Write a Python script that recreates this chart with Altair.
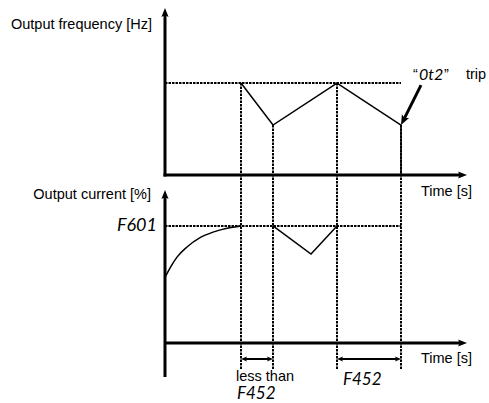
import altair as alt
import pandas as pd

# ---- values ---------------------------------------------------------------
# instants (arbitrary time units) where the overload protection acts
event_t = [4.75, 6.75, 10.75, 14.75]
event_f = [60.0, 32.6, 60.0, 32.6]          # output frequency at those instants

freq_level = 60.0
freq_t = [4.75, 6.75, 10.75, 14.75, 14.75]
freq_v = [60.0, 32.6, 60.0, 32.6, 0.0]

current_limit = 150.0                         # F601 stall level, %
rise_t = [0.0, 0.31, 0.75, 1.375, 2.19, 3.0, 3.875, 4.75]
rise_v = [84.0, 96.0, 110.0, 123.0, 135.0, 142.0, 147.0, 150.0]
dip_t = [6.75, 9.125, 10.75]
dip_v = [150.0, 114.0, 150.0]

# timing intervals marked under the time axis
span_start = [4.75, 10.75]
span_end = [6.75, 14.75]

# pointer to the trip instant
trip_tail = (16.0, 58.7)
trip_tip = (14.75, 32.6)

T_MAX, F_MAX, C_MAX = 18.875, 109.0, 196.0

# ---- text -----------------------------------------------------------------
FONT = "Liberation Sans"
SEG = "Lato"
title_freq = "Output frequency [Hz]"
title_cur = "Output current [%]"
time_title = "Time [s]"
limit_code = "F601"
span_code = "F452"
span_note = "less than"
trip_code = "0t2"

# ---- scales (plot area is the whole 489x403 canvas) -----------------------
X = alt.Scale(domain=[0, T_MAX], range=[165, 467], nice=False, zero=False)
YF = alt.Scale(domain=[0, F_MAX], range=[175, 8], nice=False, zero=False)
YC = alt.Scale(domain=[0, C_MAX], range=[343, 190], nice=False, zero=False)

HEAD = "M0,0L0.4,1L0,0.8L-0.4,1Z"   # arrow head, tip at origin, pointing up
BLACK = "black"


def xq(f):
    return alt.X(f, type="quantitative", scale=X, axis=None)


def x2q(f):
    return alt.X2(f)


def yf(f):
    return alt.Y(f, type="quantitative", scale=YF, axis=None)


def yc(f):
    return alt.Y(f, type="quantitative", scale=YC, axis=None)


def head(df, x, y, angle, size):
    return alt.Chart(df).mark_point(
        shape=HEAD, filled=True, size=size, color=BLACK, opacity=1,
        strokeWidth=0, angle=angle
    ).encode(x=x, y=y)


def label(text, x, y, align="left", font=FONT, size=14.5, italic=False, weight="normal"):
    return alt.Chart(pd.DataFrame({"s": [text]})).mark_text(
        align=align, baseline="middle", font=font, fontSize=size,
        fontStyle="italic" if italic else "normal", fontWeight=weight, color=BLACK
    ).encode(x=alt.value(x), y=alt.value(y), text="s:N")


def seg(text, x, y, size, align="left"):
    return label(text, x, y, align=align, font=SEG, size=size, italic=True)


DOT = dict(color=BLACK, strokeWidth=2, strokeDash=[2.5, 1])

# ---- dotted guides --------------------------------------------------------
f_level = alt.Chart(pd.DataFrame({"t0": [0.0], "t1": [event_t[-1]], "f": [freq_level]})
                    ).mark_rule(**DOT).encode(x=xq("t0"), x2=x2q("t1"), y=yf("f"))
c_level = alt.Chart(pd.DataFrame({"t0": [0.0], "t1": [event_t[-1]], "c": [current_limit]})
                    ).mark_rule(**DOT).encode(x=xq("t0"), x2=x2q("t1"), y=yc("c"))
verticals = alt.Chart(pd.DataFrame({"t": event_t, "f": event_f})).mark_rule(**DOT).encode(
    x=xq("t"), y=yf("f"), y2=alt.value(369))

# ---- signal traces --------------------------------------------------------
freq_line = alt.Chart(pd.DataFrame({"t": freq_t, "f": freq_v, "o": range(len(freq_t))})
                      ).mark_line(color=BLACK, strokeWidth=1.5).encode(
    x=xq("t"), y=yf("f"), order="o:Q")
rise_line = alt.Chart(pd.DataFrame({"t": rise_t, "c": rise_v})).mark_line(
    color=BLACK, strokeWidth=1.5, interpolate="monotone").encode(x=xq("t"), y=yc("c"))
dip_line = alt.Chart(pd.DataFrame({"t": dip_t, "c": dip_v})).mark_line(
    color=BLACK, strokeWidth=1.5).encode(x=xq("t"), y=yc("c"))

# ---- axes with arrow heads ------------------------------------------------
fa = pd.DataFrame({"t0": [0.0], "t1": [T_MAX], "f0": [0.0], "f1": [F_MAX]})
f_vaxis = alt.Chart(fa).mark_rule(color=BLACK, strokeWidth=3, y2Offset=6, yOffset=1.5).encode(
    x=xq("t0"), y=yf("f0"), y2=alt.Y2("f1"))
f_haxis = alt.Chart(fa).mark_rule(color=BLACK, strokeWidth=3, x2Offset=-6, xOffset=-1.5).encode(
    x=xq("t0"), x2=x2q("t1"), y=yf("f0"))
f_vhead = head(fa, xq("t0"), yf("f1"), 0, 324)
f_hhead = head(fa, xq("t1"), yf("f0"), 90, 324)

ca = pd.DataFrame({"t0": [0.0], "t1": [T_MAX], "c0": [0.0], "c1": [C_MAX]})
c_vaxis = alt.Chart(ca).mark_rule(color=BLACK, strokeWidth=3, yOffset=6).encode(
    x=xq("t0"), y=yc("c1"), y2=alt.value(377))
c_haxis = alt.Chart(ca).mark_rule(color=BLACK, strokeWidth=3, x2Offset=-6).encode(
    x=xq("t0"), x2=x2q("t1"), y=yc("c0"))
c_vhead = head(ca, xq("t0"), yc("c1"), 0, 324)
c_hhead = head(ca, xq("t1"), yc("c0"), 90, 324)

# ---- interval arrows ------------------------------------------------------
spans = pd.DataFrame({"s": span_start, "e": span_end})
span_rules = alt.Chart(spans).mark_rule(color=BLACK, strokeWidth=2, xOffset=3, x2Offset=-3).encode(
    x=xq("s"), x2=x2q("e"), y=alt.value(359))
span_l = head(spans, xq("s"), alt.value(359), 270, 144)
span_r = head(spans, xq("e"), alt.value(359), 90, 144)

# ---- trip pointer ---------------------------------------------------------
tp = pd.DataFrame({"t0": [trip_tail[0]], "f0": [trip_tail[1]],
                   "t1": [trip_tip[0]], "f1": [trip_tip[1]]})
trip_shaft = alt.Chart(tp).mark_rule(color=BLACK, strokeWidth=3, x2Offset=2.5, y2Offset=-5).encode(
    x=xq("t0"), x2=x2q("t1"), y=yf("f0"), y2=alt.Y2("f1"))
trip_head = head(tp, xq("t1"), yf("f1"), 206.6, 400)

# ---- labels ---------------------------------------------------------------
texts = [
    label(title_freq, 152, 25, align="right"),
    label(title_cur, 151, 195, align="right"),
    label(time_title, 421, 192),
    label(time_title, 421, 359),
    label(span_note, 236, 377),
    seg(limit_code, 157, 226, 18, align="right"),
    seg(span_code, 237, 394, 17),
    seg(span_code, 343, 380, 17),
    label("\u201c", 413, 75),
    seg(trip_code, 419, 75, 16),
    label("\u201d", 444, 75),
    label("trip", 466, 75),
]

chart = alt.layer(
    f_level, c_level, verticals,
    freq_line, rise_line, dip_line,
    f_vaxis, f_haxis, f_vhead, f_hhead,
    c_vaxis, c_haxis, c_vhead, c_hhead,
    span_rules, span_l, span_r,
    trip_shaft, trip_head,
    *texts,
).resolve_scale(y="independent").properties(
    width=489, height=403, autosize=alt.AutoSizeParams(type="none"), padding=0,
    background="white",
).configure_view(stroke=None)

chart.save("out.html", embed_options={"renderer": "svg", "actions": False})
